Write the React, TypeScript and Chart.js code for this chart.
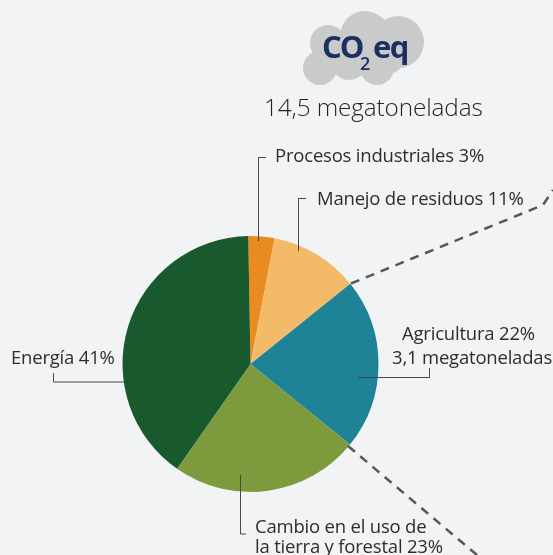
import React, { useEffect, useRef } from "react";
import { Chart, registerables } from "chart.js";
Chart.register(...registerables);

const categories = ["Procesos industriales", "Manejo de residuos", "Agricultura", "Cambio en el uso de la tierra y forestal", "Energía"];
const printedShares = [3, 11, 22, 23, 41];
const drawnShares = [3.3, 11.2, 21.6, 23.9, 40];
const sliceColors = ["#ea8b1f", "#f3bb69", "#1e8396", "#7d9a3c", "#185a2e"];
const TEXT = "#2b2d2f";
const FONT = "'Open Sans', sans-serif";

const leaders: number[][][] = [
  [[258.5, 241], [258.5, 157.5], [266, 157.5]],
  [[298.5, 251], [298.5, 198.5], [306, 198.5]],
  [[124, 382], [53.5, 382], [53.5, 373]],
  [[358, 377.5], [429.5, 377.5], [429.5, 368]],
  [[240.5, 475], [240.5, 534], [246, 534]],
];
const dashed: number[][][] = [
  [[351, 283.5], [543, 205], [553, 190]],
  [[348, 446], [477, 555]],
];
const cloud = [[365, 36, 25], [398, 42, 26], [328, 43, 18], [320, 68, 17], [349, 62, 18], [377, 68, 17], [355, 52, 24], [385, 55, 20]];

const overlay = {
  id: "overlay",
  afterDraw(chart: any) {
    const c = chart.ctx;
    c.save();
    c.fillStyle = "#c9cbcb";
    for (const [x, y, r] of cloud) {
      c.beginPath();
      c.arc(x, y, r, 0, Math.PI * 2);
      c.fill();
    }
    const poly = (p: number[][]) => {
      c.beginPath();
      p.forEach(([x, y], i) => (i ? c.lineTo(x, y) : c.moveTo(x, y)));
      c.stroke();
    };
    c.strokeStyle = "#45474a";
    c.lineWidth = 1;
    leaders.forEach(poly);
    c.strokeStyle = "#55575a";
    c.lineWidth = 2.5;
    c.setLineDash([9, 7]);
    dashed.forEach(poly);
    c.restore();
  },
};

const labels: { x: number; y: number; t: string }[] = [
  { x: 275, y: 155, t: `${categories[0]} ${printedShares[0]}%` },
  { x: 317, y: 198, t: `${categories[1]} ${printedShares[1]}%` },
  { x: 11, y: 357, t: `${categories[4]} ${printedShares[4]}%` },
  { x: 402, y: 333, t: `${categories[2]} ${printedShares[2]}%` },
  { x: 392, y: 357, t: "3,1 megatoneladas" },
  { x: 255, y: 526, t: "Cambio en el uso de" },
  { x: 255, y: 546, t: `la tierra y forestal ${printedShares[3]}%` },
];

export default function App() {
  const ref = useRef<HTMLCanvasElement>(null);
  useEffect(() => {
    document.body.style.margin = "0";
    document.body.style.background = "#f2f3f5";
    const chart = new Chart(ref.current!, {
      type: "pie",
      data: {
        labels: categories,
        datasets: [{ data: drawnShares, backgroundColor: sliceColors, borderWidth: 0 }],
      },
      options: {
        animation: false,
        responsive: false,
        rotation: -1,
        layout: { padding: { left: 122.5, right: 174.5, top: 235.5, bottom: 62.5 } },
        plugins: { legend: { display: false }, tooltip: { enabled: false } },
      },
      plugins: [overlay],
    });
    return () => chart.destroy();
  }, []);
  const base: React.CSSProperties = {
    position: "absolute",
    fontFamily: FONT,
    color: TEXT,
    fontSize: 18.5,
    lineHeight: "20px",
    whiteSpace: "nowrap",
    letterSpacing: "-0.2px",
  };
  return (
    <div style={{ position: "relative", width: 553, height: 555, overflow: "hidden", background: "#f2f3f5" }}>
      <canvas ref={ref} width={553} height={555} style={{ display: "block" }} />
      {labels.map((l) => (
        <div key={l.t} style={{ ...base, left: l.x, top: l.y - 10 }}>{l.t}</div>
      ))}
      <div style={{ ...base, left: 264, top: 92, fontSize: 24.3, lineHeight: "30px", fontWeight: 300, letterSpacing: "-0.1px", color: "#1f2123" }}>14,5 megatoneladas</div>
      <div style={{ ...base, left: 322, top: 26, color: "#1b2f63", fontSize: 31, lineHeight: "40px", fontWeight: 700, letterSpacing: "-2px" }}>CO</div>
      <div style={{ ...base, left: 360, top: 52, color: "#1b2f63", fontSize: 18, lineHeight: "22px", fontWeight: 600 }}>2</div>
      <div style={{ ...base, left: 373, top: 26, color: "#1b2f63", fontSize: 31, lineHeight: "40px", fontWeight: 700, letterSpacing: "-1.6px" }}>eq</div>
    </div>
  );
}
